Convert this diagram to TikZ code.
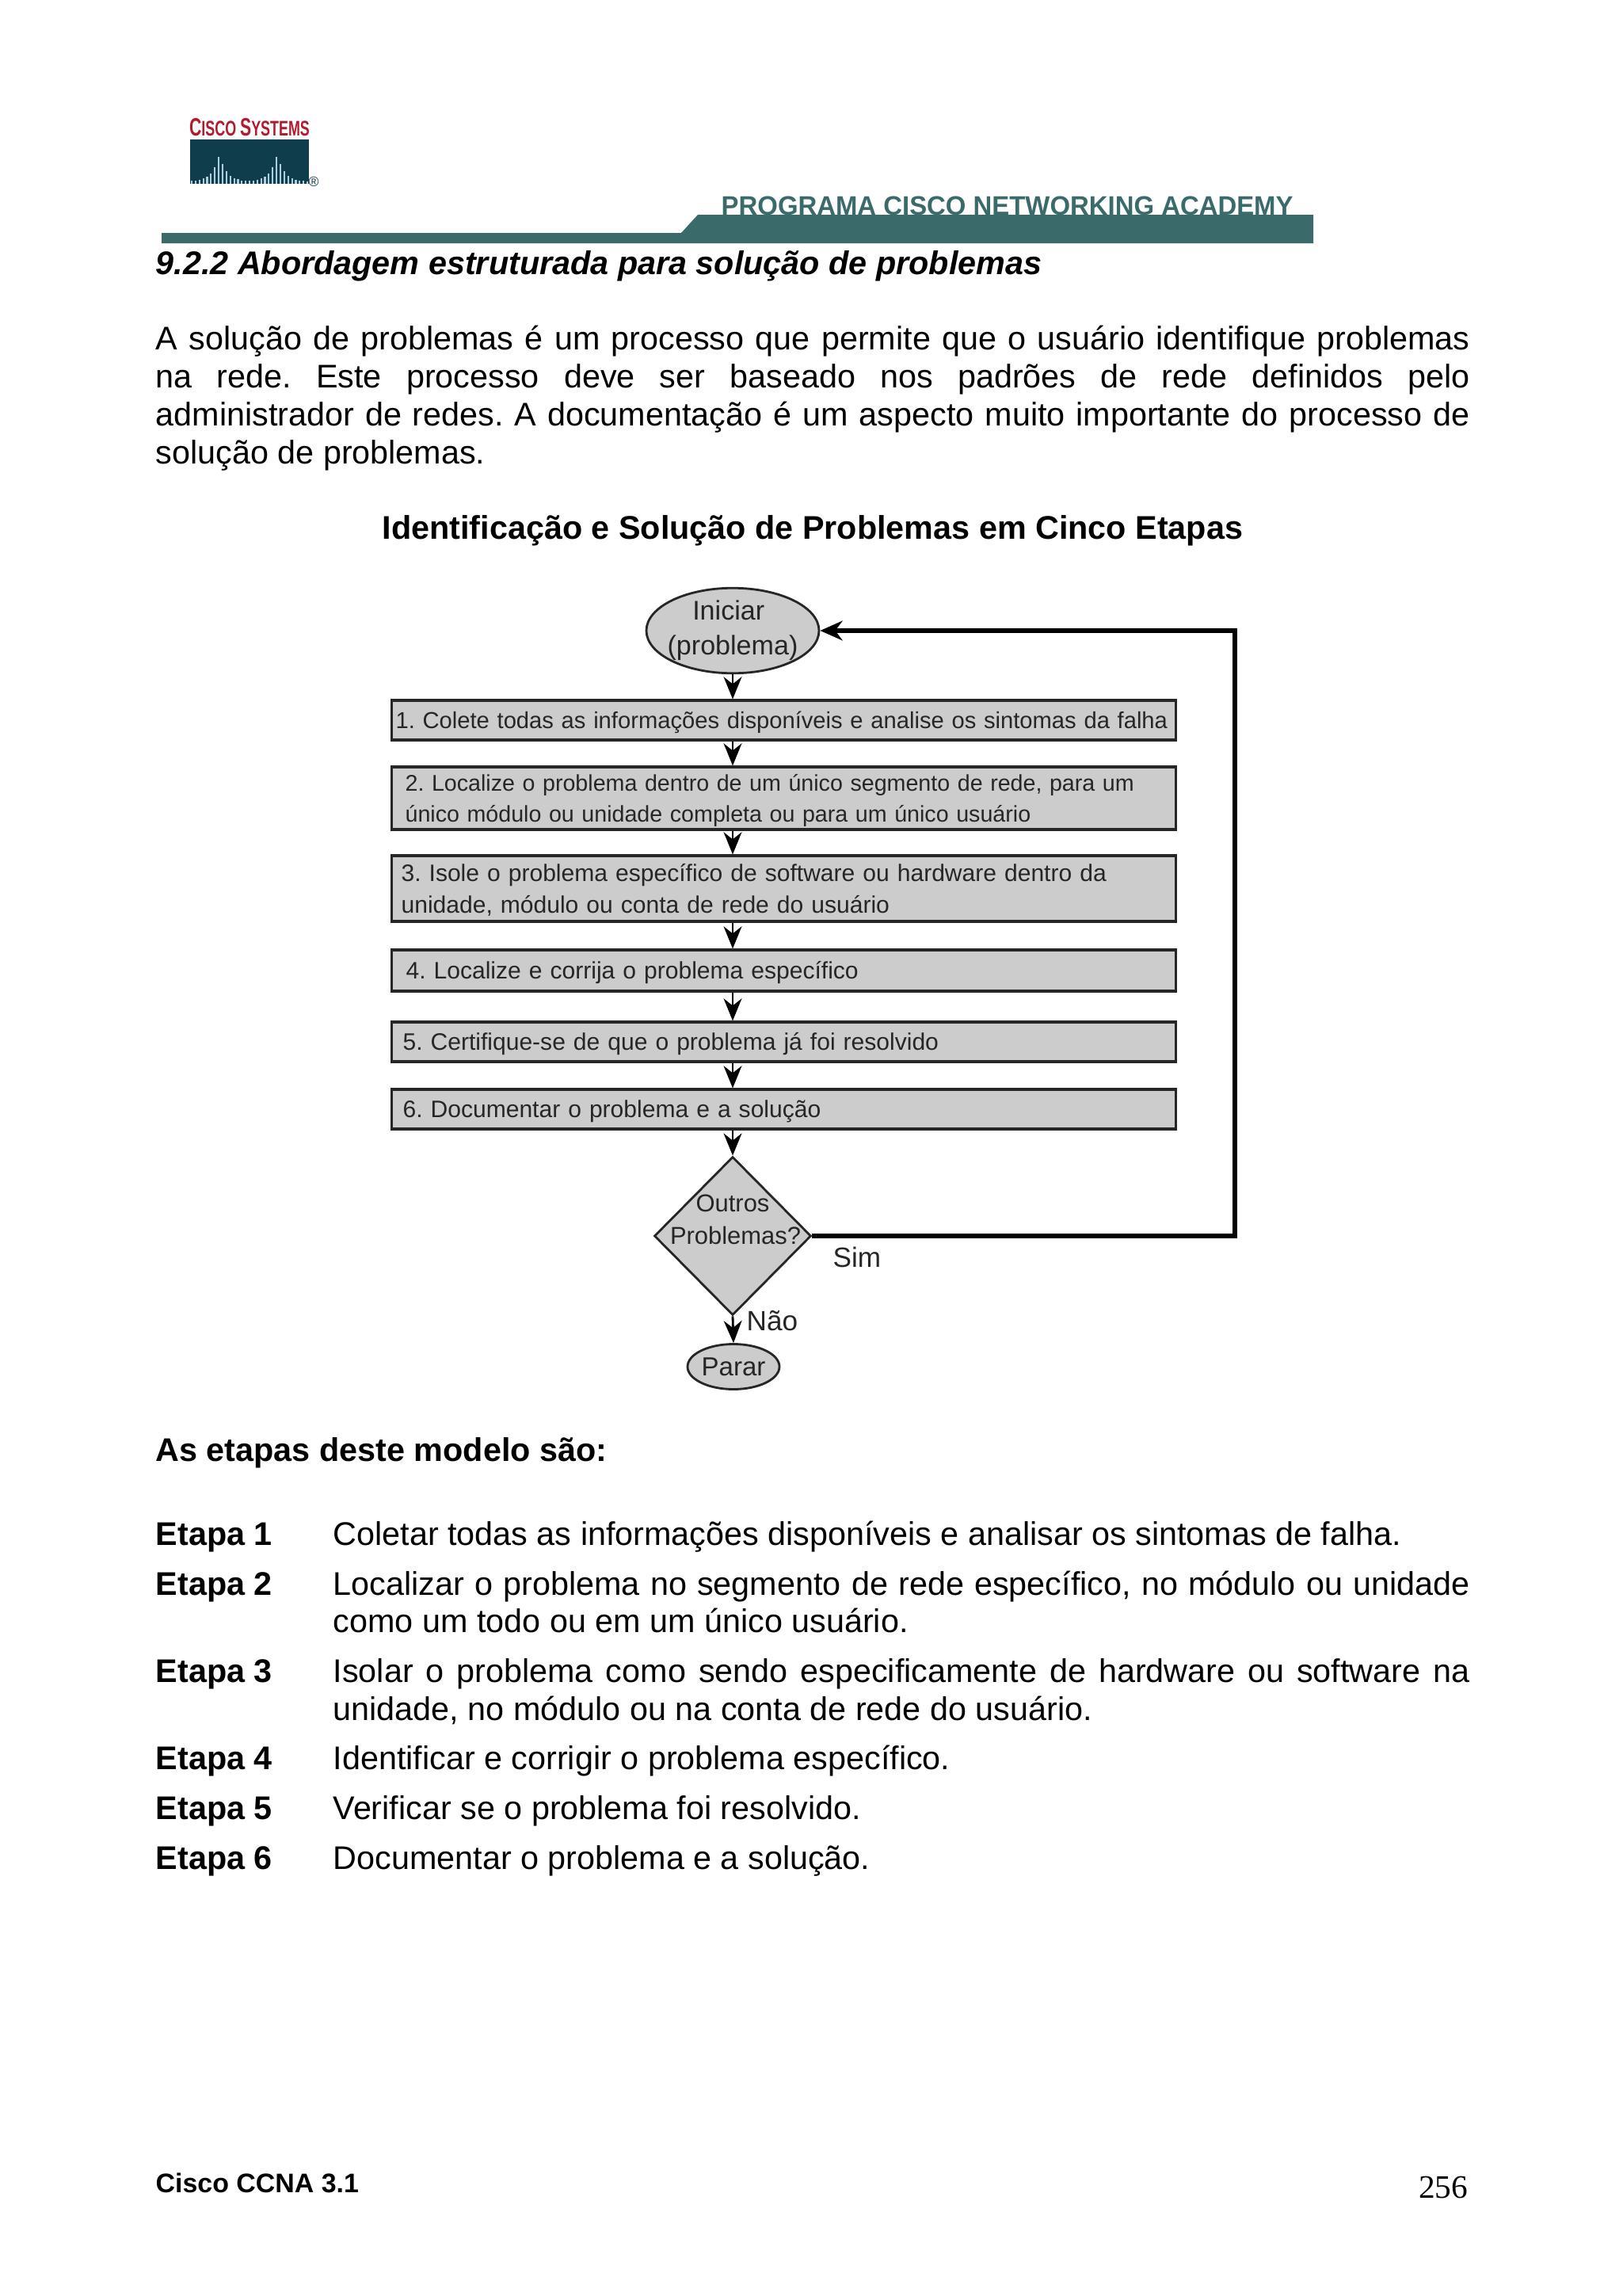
\documentclass[tikz,border=0pt]{standalone}
\usepackage{fontspec}
\setmainfont{Liberation Sans}
\newfontfamily\pagefont{Liberation Serif}
\usetikzlibrary{arrows.meta, positioning, shapes.geometric}
\definecolor{bandcolor}{HTML}{3B6A6B}
\definecolor{logocolor}{HTML}{0F3D4C}
\definecolor{ciscored}{HTML}{B01C2E}
\definecolor{boxgray}{HTML}{CCCCCC}
\frenchspacing
\tikzset{
    bodytext/.style={font=\fontsize{11.76}{13.65}\selectfont, inner sep=0pt, anchor=base west},
    bodypar/.style={bodytext, anchor=north west, text width=#1, align=justify},
    boldtext/.style={bodytext, font=\fontsize{11.76}{13.65}\selectfont\bfseries},
    smalltext/.style={font=\fontsize{8.55}{10.9}\selectfont, text=black!85},
    stepbox/.style={smalltext, draw=black!85, line width=0.9pt, fill=boxgray, anchor=west,
        inner ysep=0pt, inner xsep=#1, text width=9.9cm-2*#1, text depth=0.2pt, align=left},
    startstop/.style={smalltext, ellipse, draw=black!85, line width=0.8pt, fill=boxgray, inner sep=0pt, align=center},
    flowarrow/.style={-{Stealth[length=8pt, width=6.5pt]}, line width=0.8pt},
    looparrow/.style={line width=1.5pt}
}
\begin{document}
\begin{tikzpicture}[>=Stealth, x=1cm, y=-1cm]
    \useasboundingbox (0,0) rectangle (20.48,28.98);
    % 1. Page header
    \node[inner sep=0pt, text=ciscored, font=\fontsize{9}{10}\selectfont\bfseries] (cisconame) at (3.15,1.605)
        {\scalebox{0.67}[1]{C\fontsize{7.6}{10}\selectfont ISCO \fontsize{9}{10}\selectfont S\fontsize{7.6}{10}\selectfont YSTEMS}};
    \fill[logocolor] (2.40,1.76) rectangle (3.90,2.32);
    \foreach \k in {0,...,30} {
        \pgfmathsetmacro{\barx}{2.42+0.0487*\k}
        \pgfmathsetmacro{\barh}{0.03+0.34*max(exp(-abs(\barx-2.77)/0.09),exp(-abs(\barx-3.50)/0.09))}
        \draw[line width=0.6pt, white!70!cyan!70!gray] (\barx,2.32) -- (\barx,2.32-\barh);
    }
    \node[inner sep=0pt, text=logocolor, font=\fontsize{5}{6}\selectfont] (ciscomark) at (3.96,2.29) {\textregistered};
    \node[inner sep=0pt, anchor=base west, text=bandcolor, font=\fontsize{9.6}{10}\selectfont\bfseries] (academy) at (9.10,2.71)
        {\scalebox{0.975}[1]{PROGRAMA CISCO NETWORKING ACADEMY}};
    \fill[bandcolor] (2.04,2.94) -- (8.60,2.94) -- (8.81,2.71) -- (16.58,2.71) -- (16.58,3.07) -- (2.04,3.07) -- cycle;
    \node[bodytext, font=\fontsize{11.76}{13.65}\selectfont\bfseries\itshape] (sectiontitle) at (1.96,3.46)
        {9.2.2 Abordagem estruturada para solução de problemas};
    % 2. Intro paragraph
    \node[bodypar=16.59cm] (intro) at (1.96,4.10)
        {A solução de problemas é um processo que permite que o usuário identifique problemas\linebreak
        na rede. Este processo deve ser baseado nos padrões de rede definidos pelo\linebreak
        administrador de redes. A documentação é um aspecto muito importante do processo de\linebreak
        solução de problemas.};
    \node[boldtext] (charttitle) at (4.82,6.80) {Identificação e Solução de Problemas em Cinco Etapas};
    % 3. Flow chart
    \node[startstop, font=\fontsize{9.7}{12.6}\selectfont, minimum width=2.18cm, minimum height=1.06cm] (start) at (9.25,7.96)
        {\makebox[0pt]{Iniciar\hspace{3pt}}\\\makebox[0pt]{(problema)}};
    \node[stepbox=0.05cm, font=\fontsize{8.3}{10.9}\selectfont, minimum height=0.50cm] (step1) at (4.93,9.09)
        {1. Colete todas as informações disponíveis e analise os sintomas da falha};
    \node[stepbox=0.17cm, font=\fontsize{8.15}{11}\selectfont, text depth=11.2pt, minimum height=0.79cm] (step2) at (4.93,10.075)
        {2. Localize o problema dentro de um único segmento de rede, para um\\único módulo ou unidade completa ou para um único usuário};
    \node[stepbox=0.12cm, font=\fontsize{8.55}{11.5}\selectfont, text depth=11.7pt, minimum height=0.83cm] (step3) at (4.93,11.215)
        {3. Isole o problema específico de software ou hardware dentro da\\unidade, módulo ou conta de rede do usuário};
    \node[stepbox=0.18cm, minimum height=0.52cm] (step4) at (4.93,12.25)
        {4. Localize e corrija o problema específico};
    \node[stepbox=0.14cm, minimum height=0.50cm] (step5) at (4.93,13.15)
        {5. Certifique-se de que o problema já foi resolvido};
    \node[stepbox=0.14cm, minimum height=0.50cm] (step6) at (4.93,14.00)
        {6. Documentar o problema e a solução};
    \node[smalltext, font=\fontsize{8.8}{11.5}\selectfont, diamond, draw=black!85, line width=0.8pt, fill=boxgray, inner sep=0pt, minimum width=1.98cm, minimum height=2.0cm,
        align=center] (more) at (9.25,15.60) {\makebox[0pt]{Outros}\\\makebox[0pt]{\hspace{2pt}Problemas?}\\[-3.2pt]\strut};
    \node[startstop, font=\fontsize{9.4}{11}\selectfont, minimum width=1.16cm, minimum height=0.57cm] (stop) at (9.26,17.25) {Parar};
    \coordinate (loopbottom) at (15.59,15.60);
    \coordinate (looptop) at (15.59,7.96);
    \draw[flowarrow] (start) -- (start |- step1.north);
    \draw[flowarrow] (step1.south -| start) -- (step2.north -| start);
    \draw[flowarrow] (step2.south -| start) -- (step3.north -| start);
    \draw[flowarrow] (step3.south -| start) -- (step4.north -| start);
    \draw[flowarrow] (step4.south -| start) -- (step5.north -| start);
    \draw[flowarrow] (step5.south -| start) -- (step6.north -| start);
    \draw[flowarrow] (step6.south -| start) -- (more.north);
    \draw[flowarrow] (more.south) -- (stop.north);
    \draw[looparrow, line join=miter, -{Stealth[length=8pt, width=7pt]}] (more.east) -- (loopbottom) -- (looptop) -- (start.east);
    \node[smalltext, font=\fontsize{10}{12}\selectfont, anchor=base west, inner sep=0pt] (yes) at (10.51,15.99) {Sim};
    \node[smalltext, font=\fontsize{10}{12}\selectfont, anchor=base west, inner sep=0pt] (no) at (9.42,16.79) {Não};
    % 4. List of steps
    \node[boldtext] (listtitle) at (1.96,18.44) {As etapas deste modelo são:};
    \node[boldtext] (label1) at (1.96,19.50) {Etapa 1};
    \node[bodytext] (item1) at (4.20,19.50) {Coletar todas as informações disponíveis e analisar os sintomas de falha.};
    \node[boldtext] (label2) at (1.96,20.13) {Etapa 2};
    \node[bodypar=14.35cm, anchor=base west] (item2) at (4.20,20.13)
        {Localizar o problema no segmento de rede específico, no módulo ou unidade como um todo ou em um único usuário.};
    \node[boldtext] (label3) at (1.96,21.23) {Etapa 3};
    \node[bodypar=14.35cm, anchor=base west] (item3) at (4.20,21.23)
        {Isolar o problema como sendo especificamente de hardware ou software na unidade, no módulo ou na conta de rede do usuário.};
    \node[boldtext] (label4) at (1.96,22.33) {Etapa 4};
    \node[bodytext] (item4) at (4.20,22.33) {Identificar e corrigir o problema específico.};
    \node[boldtext] (label5) at (1.96,22.96) {Etapa 5};
    \node[bodytext] (item5) at (4.20,22.96) {Verificar se o problema foi resolvido.};
    \node[boldtext] (label6) at (1.96,23.59) {Etapa 6};
    \node[bodytext] (item6) at (4.20,23.59) {Documentar o problema e a solução.};
    % 5. Footer
    \node[bodytext, font=\fontsize{9.65}{11}\selectfont\bfseries] (footer) at (1.96,27.67) {Cisco CCNA 3.1};
    \node[bodytext, anchor=base east, font=\fontsize{11.76}{13}\selectfont\pagefont] (pagenum) at (18.54,27.74) {256};
\end{tikzpicture}
\end{document}
